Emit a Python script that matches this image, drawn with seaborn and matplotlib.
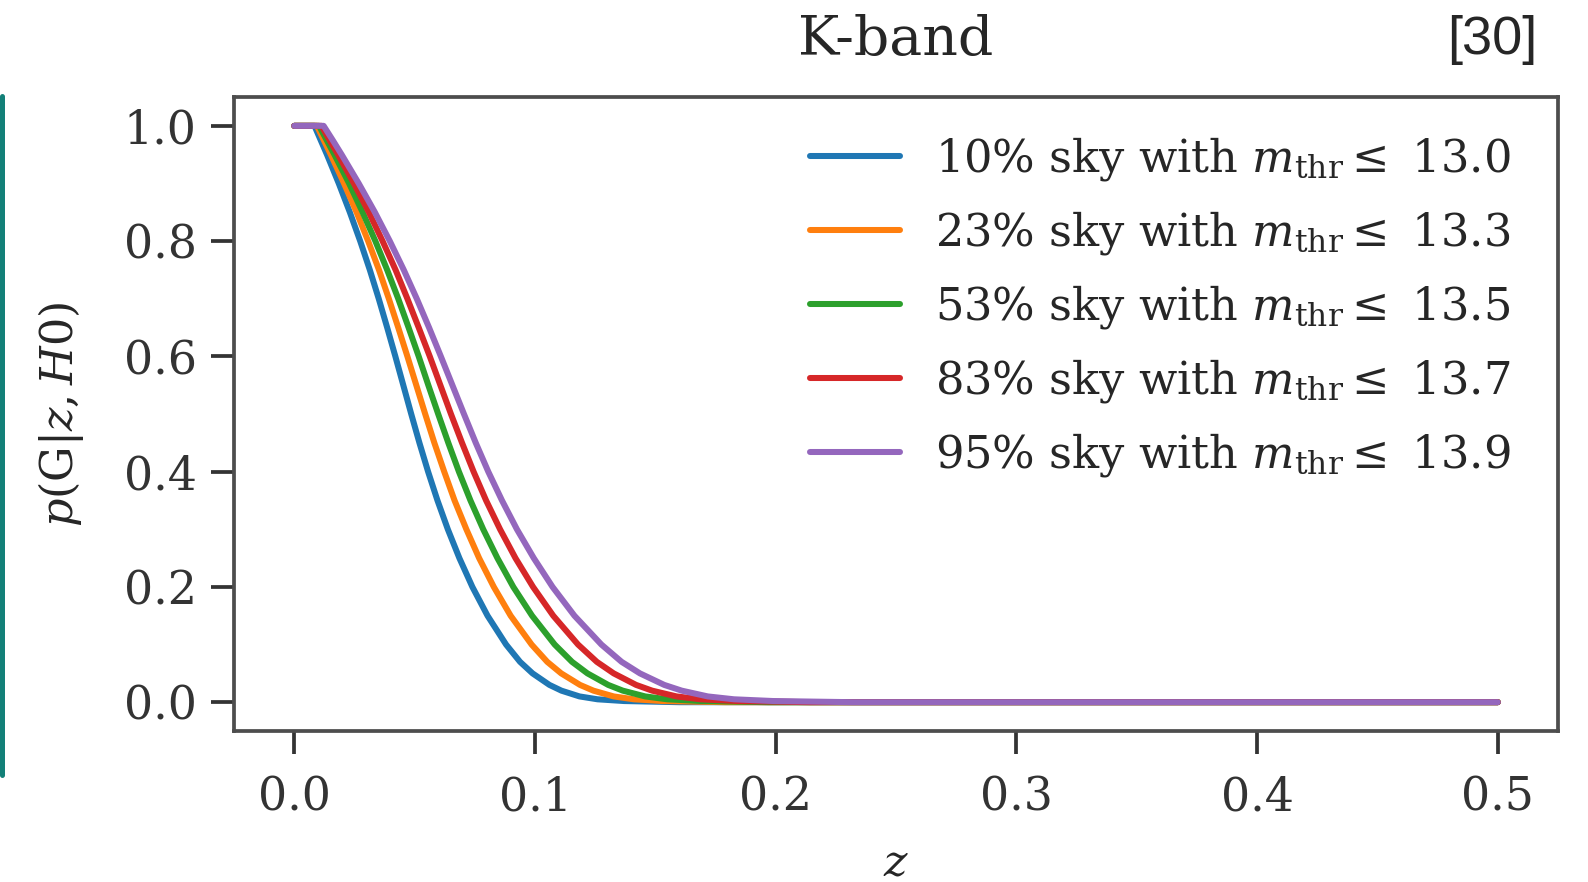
import matplotlib
matplotlib.use("Agg")
import matplotlib.pyplot as plt
from matplotlib.lines import Line2D
import pandas as pd
import seaborn as sns

# === 資料 ===
sky_frac = [10, 23, 53, 83, 95]
m_thr = [13.0, 13.3, 13.5, 13.7, 13.9]

# p(G|z,H0) levels shared by all curves
p_levels = [1.0, 1.0, 0.975, 0.95, 0.9, 0.85, 0.8, 0.75, 0.7, 0.65, 0.6, 0.55, 0.5,
            0.45, 0.4, 0.35, 0.3, 0.25, 0.2, 0.15, 0.1, 0.07, 0.05, 0.03, 0.02,
            0.01, 0.005, 0.002, 0.0, 0.0]

# redshift at which each curve reaches the level above
z_10 = [0.0, 0.0084, 0.0110, 0.0136, 0.0185, 0.0231, 0.0274, 0.0314, 0.0351, 0.0386,
        0.0420, 0.0453, 0.0486, 0.0520, 0.0556, 0.0595, 0.0638, 0.0686, 0.0740, 0.0803,
        0.0880, 0.0938, 0.0990, 0.1060, 0.1110, 0.1185, 0.1260, 0.137, 0.160, 0.5]
z_23 = [0.0, 0.0094, 0.0123, 0.0152, 0.0207, 0.0259, 0.0307, 0.0352, 0.0393, 0.0432,
        0.0470, 0.0507, 0.0544, 0.0582, 0.0623, 0.0666, 0.0715, 0.0768, 0.0829, 0.0899,
        0.0986, 0.1051, 0.1109, 0.1187, 0.1243, 0.1327, 0.1411, 0.153, 0.179, 0.5]
z_53 = [0.0, 0.0103, 0.0135, 0.0167, 0.0228, 0.0284, 0.0337, 0.0386, 0.0432, 0.0475,
        0.0517, 0.0557, 0.0598, 0.0640, 0.0684, 0.0732, 0.0785, 0.0844, 0.0910, 0.0988,
        0.1082, 0.1154, 0.1218, 0.1304, 0.1365, 0.1458, 0.1550, 0.169, 0.197, 0.5]
z_83 = [0.0, 0.0113, 0.0147, 0.0182, 0.0248, 0.0310, 0.0367, 0.0421, 0.0470, 0.0517,
        0.0563, 0.0607, 0.0651, 0.0697, 0.0745, 0.0797, 0.0855, 0.0919, 0.0992, 0.1076,
        0.1179, 0.1257, 0.1327, 0.1420, 0.1487, 0.1588, 0.1688, 0.184, 0.214, 0.5]
z_95 = [0.0, 0.0122, 0.0160, 0.0197, 0.0268, 0.0335, 0.0397, 0.0455, 0.0509, 0.0560,
        0.0609, 0.0657, 0.0705, 0.0754, 0.0806, 0.0863, 0.0925, 0.0995, 0.1073, 0.1164,
        0.1276, 0.1360, 0.1436, 0.1537, 0.1610, 0.1718, 0.1827, 0.199, 0.232, 0.5]

x_ticks = [0.0, 0.1, 0.2, 0.3, 0.4, 0.5]
y_ticks = [0.0, 0.2, 0.4, 0.6, 0.8, 1.0]

labels = [rf"{f}% sky with $m_{{\rm thr}}\leq$ {m:.1f}" for f, m in zip(sky_frac, m_thr)]
rows = []
for lab, zs in zip(labels, [z_10, z_23, z_53, z_83, z_95]):
    for z, p in zip(zs, p_levels):
        rows.append({"z": z, "p": p, "label": lab})
df = pd.DataFrame(rows)

# === 繪圖 ===
sns.set_theme(style="ticks", context="notebook", rc={
    "axes.linewidth": 0.9,
    "axes.edgecolor": "0.3",
    "xtick.major.width": 0.9,
    "ytick.major.width": 0.9,
    "xtick.major.size": 5.5,
    "ytick.major.size": 5.5,
    "xtick.color": "0.2",
    "ytick.color": "0.2",
})
plt.rcParams["font.family"] = ["DejaVu Serif"]
plt.rcParams["mathtext.fontset"] = "dejavuserif"

fig = plt.figure(figsize=(1588 / 300, 882 / 300), dpi=300)
ax = fig.add_axes([0.1474, 0.1712, 0.8337, 0.7188])

sns.lineplot(data=df, x="z", y="p", hue="label", hue_order=labels,
             palette="tab10", estimator=None, sort=False, linewidth=1.45, ax=ax)

ax.set_xticks(x_ticks)
ax.set_yticks(y_ticks)
ax.tick_params(labelsize=11)
ax.tick_params(axis="x", pad=5)
ax.set_xlabel(r"$z$", fontsize=10.7, labelpad=5)
ax.set_ylabel(r"$p(\mathrm{G}|z, H0)$", fontsize=10.7, labelpad=9)
ax.set_title("K-band", fontsize=13.3, pad=10)

ax.legend(loc="upper right", frameon=False, fontsize=10.75,
          bbox_to_anchor=(0.995, 1.004), handlelength=2.0, labelspacing=0.58)

# 參考標記與左側線
fig.text(0.9395, 0.955, "[30]", family="Liberation Sans", fontsize=13,
         ha="center", va="center")
fig.add_artist(Line2D([0.001, 0.001], [1 - 96 / 882, 1 - 775 / 882],
                      transform=fig.transFigure, color="#138078", linewidth=1.2))

fig.savefig("out.png", dpi=300)
plt.close(fig)
